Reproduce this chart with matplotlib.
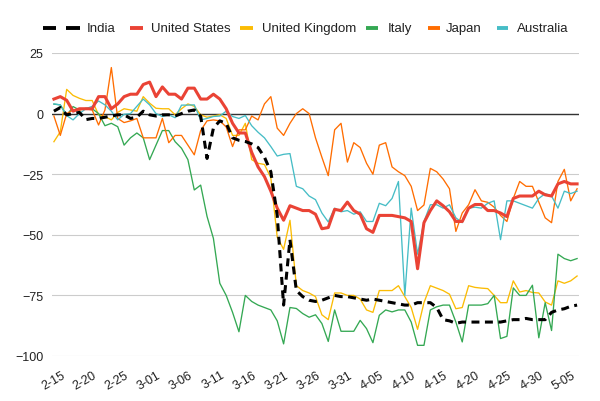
import matplotlib
matplotlib.use("Agg")
import matplotlib.pyplot as plt
from matplotlib.lines import Line2D
import matplotlib.transforms as mtransforms
import pandas as pd

plt.rcParams['font.family'] = ['Liberation Sans', 'DejaVu Sans']

# mobility change (%) per day, starting 2020-02-15
dates = pd.date_range("2020-02-15", periods=83, freq="D")

india = [1, 2.5, -0.5, 0, 0.5, -2.5, -2, -2, -1.5, -1, -0.5, -0.5, -2, -1.5, 1, -0.5,
         -1, -0.5, -0.5, -1, 0, 1, 1.5, -1,
         -18.5, -6, -3, -4, -10, -11, -11.5, -12.5, -14, -18, -24, -42, -79, -52,
         -73, -75.5, -77, -77.5, -77, -76, -75, -75.5, -75.5, -76, -76.5, -77, -76.5,
         -77, -77.5, -78, -78.5, -79, -79, -78, -78, -78, -80, -85, -85.5, -86.5, -86,
         -86, -86, -86, -86, -86, -86, -85.5, -85, -85, -84.5, -85, -85, -85, -82, -81,
         -80.5, -79.5, -79]

us = [6, 7, 5.5, 1, 2, 2, 2, 7, 7, 2, 4, 7, 8, 8, 12, 13, 7, 11, 8, 8, 6,
      10.5, 10.5, 6, 6, 8, 6, 2, -4, -8, -8, -16, -22, -26, -32, -39, -44, -38, -39, -40,
      -40, -41.5, -47.5, -47, -39.5, -40, -36.5, -40, -41.5, -47.5, -49, -42, -42, -42,
      -42.5, -43, -44.5, -64, -45, -40,
      -36, -38, -40.5, -44.5, -44.5, -39, -37.5, -37.5, -40, -40, -41, -42.5, -35, -34,
      -34, -34, -32, -33.5, -34, -29, -28, -29, -29]

uk = [-11.6, -7.5, 10, 7.5, 6.3, 5.4, 5.4, -0.5, -1.2, -2.6, 0.5, 2, 1.5, 1, 7, 4.3,
      2.2, 2, 2, -0.5, 2, 4, 3, -0.5, -1.5, -1, -0.5, -2, -9, -9, -4, -19, -20.5, -21,
      -26.5, -51, -56, -44,
      -71, -73, -74, -75.5, -83, -85, -74, -74, -75, -75, -76.5, -81, -82, -73, -73, -73,
      -71, -75.5, -80, -89, -78, -71, -72, -73, -74.5, -80.5, -80, -71, -71.7, -72, -72.2,
      -75, -78, -78, -69, -73.6, -73, -73.8, -74, -77.7, -79, -69, -70, -69, -67]

italy = [3.9, 3.6, -0.8, 2.9, 1.5, 2.2, 2, 0, -5, -4, -5.4, -13, -10, -8, -10, -19, -13,
         -7, -7, -11.6, -14.3, -19, -31.5, -29.5, -42.4, -51.5, -70, -75, -82, -90, -75,
         -77.5, -79, -80, -81, -85.5, -95, -80,
         -80.4, -82.5, -84, -83, -86.6, -94, -81, -89.8, -89.8, -89.8, -85.3, -88.7, -94.5,
         -83.2, -81, -81.8, -81, -81, -86, -95.6, -95.6, -81, -79.7, -79, -79, -86, -94.2,
         -79, -79, -79, -78.4, -75, -92.8, -91.9, -71.9, -75, -75, -70.8, -92.5, -78, -89.5,
         -58, -59.8, -60.7, -59.8]

japan = [-1, -9, 0, 1.5, 1.5, 2, 1.5, -4.7, 1.5, 19, -2, -3.7, -3, -2, -10, -10, -10, -2,
         -12, -9, -9, -13, -17, -7, -3, -2.6, -3, -5.5, -13.6, -6.7, -6.7, -1, -2.6,
         4, 7, -6, -9, -4, 0, 2, 0, -10, -18, -25.6, -6.7, -4, -20, -12, -14, -20.5, -25,
         -13, -12, -22, -24, -25.6, -30, -40, -37.7, -22.6,
         -24, -27, -31, -48.6, -41, -37.6, -31.4, -36, -36.6, -38.6, -42, -44.5, -35, -28,
         -30, -30, -36.5, -43, -45, -28, -23, -36, -31]

australia = [4, 3.6, -0.8, -2.6, 0, 2, 3, 5.2, 3.6, 1, -2.6, -0.3, 0, 3, 6, 3.6, 0, -1.2,
             -0.5, -1.7, 3.5, 3.5, 3.6, -2.6, -2, -1.2, -1, 1, -1.2, -2, -0.8, -5, -7.7,
             -10, -13.6, -17.5, -16.8, -16.5,
             -30, -31, -34, -35.5, -41, -44.7, -39, -40.5, -40, -41.5, -40.5, -44.5, -44.5,
             -37, -38, -35, -28, -75, -39, -58, -44.5, -37.6, -37.6, -39, -37.6, -43, -45,
             -39, -38.6, -39, -37, -36, -52, -36, -36, -37, -38, -39, -35, -33, -34, -39,
             -32, -33, -32]

names = ["India", "United States", "United Kingdom", "Italy", "Japan", "Australia"]
colors = ["#000000", "#EA4335", "#FBBC04", "#34A853", "#FF6D01", "#46BDC6"]
values = [india, us, uk, italy, japan, australia]

fig = plt.figure(figsize=(6, 4.02), dpi=100)
ax = fig.add_axes([52 / 600, 1 - 357 / 402, (579 - 52) / 600, (357 - 54) / 402])

x = list(range(len(dates)))
# thin lines first, then US and India on top
for name, vals, col in zip(names, values, colors):
    if name in ("India", "United States"):
        continue
    ax.plot(x, vals, color=col, lw=0.95, zorder=3)
ax.plot(x, us, color=colors[1], lw=2.2, zorder=4, solid_joinstyle='round')
ax.plot(x, india, color="black", lw=2.2, dashes=(2.6, 1.8), zorder=5)

ax.set_xlim(-0.3, 82.3)
ax.set_ylim(-100, 25)
ax.set_yticks([25, 0, -25, -50, -75, -100])
ax.grid(axis='y', color='#cccccc', lw=0.8, zorder=0)
ax.axhline(0, color='#333333', lw=1.0, zorder=2)
for s in ax.spines.values():
    s.set_visible(False)
ax.tick_params(axis='y', length=0, pad=6, labelsize=9, labelcolor='#222222')

ticks = x[::5]
ax.set_xticks(ticks)
ax.set_xticklabels([f"{d.month}-{d.day:02d}" for d in dates[::5]],
                   rotation=30, ha='right', va='top', rotation_mode='anchor')
ax.tick_params(axis='x', length=0, pad=9, labelsize=9, labelcolor='#222222')
shift = mtransforms.ScaledTranslation(7 / 100, 0, fig.dpi_scale_trans)
for lab in ax.get_xticklabels():
    lab.set_transform(lab.get_transform() + shift)

# legend drawn by hand across the top
ly = 1 - 29 / 402
handles = [(42.6, 79.5), (129.8, 142.6), (240, 252.7), (366, 378), (428, 440), (497, 508)]
text_x = [87.2, 151, 261.6, 387.6, 445.7, 516.7]
for name, col, (x0, x1), tx in zip(names, colors, handles, text_x):
    if name == "India":
        for a, b in [(42.6, 56.2), (65.9, 79.5)]:
            fig.add_artist(Line2D([a / 600, b / 600], [ly, ly], color=col, lw=2.8,
                                  transform=fig.transFigure, solid_capstyle='butt'))
    else:
        fig.add_artist(Line2D([x0 / 600, x1 / 600], [ly, ly], color=col, lw=2.8,
                              transform=fig.transFigure, solid_capstyle='butt'))
    fig.text(tx / 600, ly, name, ha='left', va='center', fontsize=9.5, color='#222222')

fig.savefig("out.png", dpi=100)
